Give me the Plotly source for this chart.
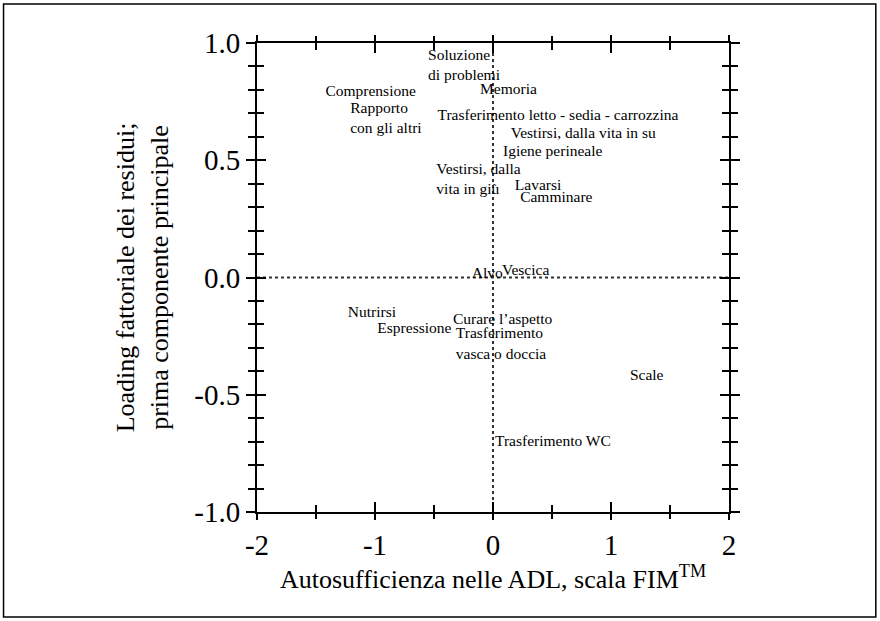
import plotly.graph_objects as go

# ---- data (label anchored at its left edge) ----
labels = [
    "Soluzione<br>di problemi",
    "Memoria",
    "Comprensione",
    "Rapporto<br>con gli altri",
    "Trasferimento letto - sedia - carrozzina",
    "Vestirsi, dalla vita in su",
    "Igiene perineale",
    "Vestirsi, dalla<br>vita in giù",
    "Lavarsi",
    "Camminare",
    "Alvo",
    "Vescica",
    "Nutrirsi",
    "Espressione",
    "Curare l’aspetto",
    "Trasferimento<br>vasca o doccia",
    "Scale",
    "Trasferimento WC",
]
x_vals = [-0.55, -0.11, -1.42, -1.21, -0.47, 0.15, 0.085, -0.48, 0.185, 0.23,
          -0.18, 0.076, -1.23, -0.98, -0.34, -0.315, 1.16, 0.017]
y_vals = [0.90, 0.80, 0.79, 0.675, 0.69, 0.61, 0.535, 0.417, 0.39, 0.34,
          0.013, 0.026, -0.15, -0.22, -0.18, -0.286, -0.42, -0.70]

x_tick_vals = [-2, -1, 0, 1, 2]
x_tick_text = ["-2", "-1", "0", "1", "2"]
y_tick_vals = [1.0, 0.5, 0.0, -0.5, -1.0]
y_tick_text = ["1.0", "0.5", "0.0", "-0.5", "-1.0"]
x_range = [-2, 2]
y_range = [-1, 1]

x_title = "Autosufficienza nelle ADL, scala FIM<sup>TM</sup>"
y_title = "Loading fattoriale dei residui;<br>prima componente principale"

FONT = "Liberation Serif"

fig = go.Figure()
fig.add_trace(go.Scatter(
    x=x_vals, y=y_vals, text=labels, mode="text",
    textposition="middle right",
    textfont=dict(family=FONT, size=15.5, color="black"),
    hoverinfo="skip", showlegend=False,
))
# empty trace on overlay axes so their inner ticks are drawn
fig.add_trace(go.Scatter(x=[None], y=[None], xaxis="x2", yaxis="y2",
                         mode="lines", showlegend=False, hoverinfo="skip"))

axis_common = dict(showgrid=False, zeroline=False, showline=True,
                   linecolor="black", linewidth=2, tickcolor="black",
                   tickwidth=2, mirror="ticks")

fig.update_layout(
    width=880, height=621,
    margin=dict(l=257, r=151, t=43, b=109),
    paper_bgcolor="white", plot_bgcolor="white",
    font=dict(family=FONT, color="black"),
    xaxis=dict(**axis_common, range=x_range, ticks="outside", ticklen=6,
               tickmode="array", tickvals=x_tick_vals, ticktext=x_tick_text,
               tickfont=dict(family=FONT, size=29, color="black"),
               minor=dict(tickmode="linear", tick0=0, dtick=0.5, ticks="outside",
                          ticklen=5, tickwidth=2, tickcolor="black"),
               title=dict(text=x_title, font=dict(family=FONT, size=26, color="black"),
                          standoff=0)),
    yaxis=dict(**axis_common, range=y_range, ticks="outside", ticklen=9,
               tickmode="array", tickvals=y_tick_vals, ticktext=y_tick_text,
               tickfont=dict(family=FONT, size=29, color="black"),
               minor=dict(tickmode="linear", tick0=0, dtick=0.1, ticks="outside",
                          ticklen=7, tickwidth=2, tickcolor="black"),
               title=dict(text=y_title, font=dict(family=FONT, size=26, color="black"),
                          standoff=18)),
    xaxis2=dict(**axis_common, range=x_range, overlaying="x", side="bottom",
                ticks="inside", ticklen=10, showticklabels=False,
                tickmode="array", tickvals=x_tick_vals,
                minor=dict(tickmode="linear", tick0=0, dtick=0.5, ticks="inside",
                           ticklen=7, tickwidth=2, tickcolor="black")),
    yaxis2=dict(**axis_common, range=y_range, overlaying="y", side="left",
                ticks="inside", ticklen=9, showticklabels=False,
                tickmode="array", tickvals=y_tick_vals,
                minor=dict(tickmode="linear", tick0=0, dtick=0.1, ticks="inside",
                           ticklen=7, tickwidth=2, tickcolor="black")),
    shapes=[
        dict(type="line", xref="x", yref="y", x0=0, x1=0, y0=y_range[0], y1=y_range[1],
             line=dict(color="#333333", width=2, dash="dot"), layer="below"),
        dict(type="line", xref="x", yref="y", x0=x_range[0], x1=x_range[1], y0=0, y1=0,
             line=dict(color="#333333", width=2, dash="dot"), layer="below"),
        dict(type="rect", xref="paper", yref="paper",
             x0=-0.537, x1=1.311, y0=-0.224, y1=1.083,
             line=dict(color="black", width=1.5), fillcolor="rgba(0,0,0,0)"),
    ],
)

fig.write_html("out.html", config={"displayModeBar": False},
               post_script="document.body.style.margin='0';document.body.style.padding='0';")
